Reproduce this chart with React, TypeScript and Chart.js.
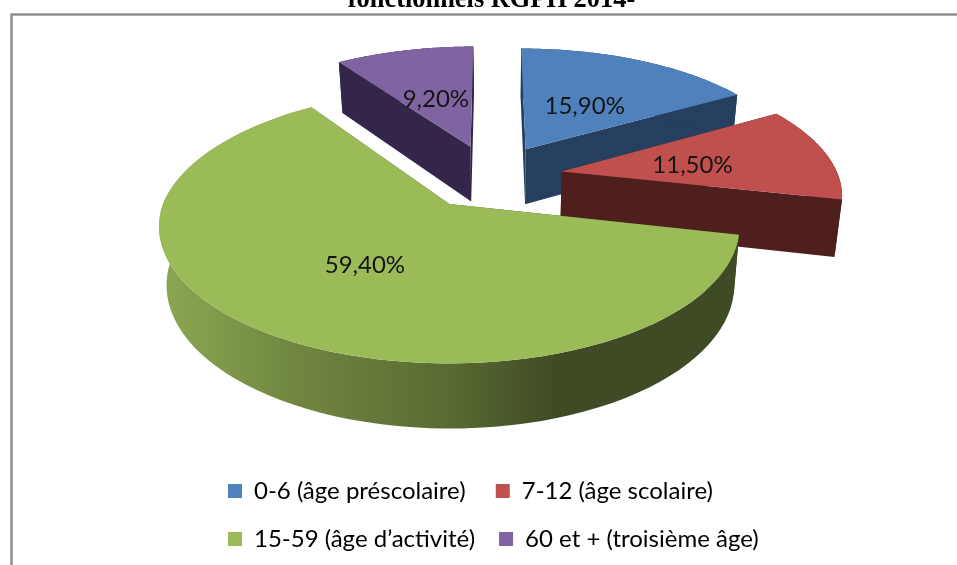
import React, { useEffect, useRef } from "react";
import { Chart, registerables } from "chart.js";

Chart.register(...registerables);

const categories = ["0-6 (âge préscolaire)", "7-12 (âge scolaire)", "15-59 (âge d’activité)", "60 et + (troisième âge)"];
const shares = [15.9, 11.5, 59.4, 9.2];
const valueLabels = ["15,90%", "11,50%", "59,40%", "9,20%"];
const faceColors = ["#4f81bd", "#c0504d", "#9bbb59", "#8064a2"];
const wallColors = ["#263f5e", "#4f1f1e", "#3f4b24", "#33264a"];
const paintOrder = [3, 0, 1, 2];
const titleText = "fonctionnels RGPH 2014-";

// Perspective of the pie (style constants)
const CX = 451, CY = 203, RX = 286, RY = 133, K = 0.163, SHEAR = 0.05;
const HUB_X = 0.14, HUB_U = 0.207, EXPLODE = 0.26, LABEL_R = 0.49;
const FONT = "Lato";
const FONT_SIZE = 24;

type P = [number, number];
const top = (X: number, u: number): P => {
  const w = 1 + K * u;
  const dy = -(RY * u) / w;
  return [CX + (RX * X) / w - SHEAR * Math.min(dy, 0), CY + dy];
};
const drop = (p: P): P => [500 + (p[0] - 500) * 0.978, p[1] * 1.047 + 48];

const pie3d = {
  id: "pie3d",
  beforeDraw(chart: any) {
    const { ctx } = chart;
    ctx.save();
    ctx.fillStyle = "#fff";
    ctx.fillRect(0, 0, chart.width, chart.height);
    ctx.strokeStyle = "#8f8f8f";
    ctx.lineWidth = 2.5;
    ctx.beginPath();
    ctx.moveTo(11.5, chart.height + 2);
    ctx.lineTo(11.5, 14.5);
    ctx.lineTo(chart.width + 2, 14.5);
    ctx.stroke();
    ctx.fillStyle = "#000";
    ctx.font = "bold 26.4px 'Liberation Serif'";
    ctx.textAlign = "center";
    ctx.textBaseline = "alphabetic";
    ctx.fillText(titleText, 491.5, 7);
    ctx.restore();
  },
  beforeDatasetDraw(chart: any, args: any) {
    const { ctx } = chart;
    const arcs = chart.getDatasetMeta(args.index).data;
    const info = arcs.map((arc: any) => {
      const mid = (arc.startAngle + arc.endAngle) / 2;
      const hub: [number, number] = [HUB_X + EXPLODE * Math.cos(mid), HUB_U - EXPLODE * Math.sin(mid)];
      const rim: P[] = [];
      const n = 80;
      for (let j = 0; j <= n; j++) {
        const a = arc.startAngle + ((arc.endAngle - arc.startAngle) * j) / n;
        rim.push(top(hub[0] + Math.cos(a), hub[1] - Math.sin(a)));
      }
      return { mid, hub, rim, apex: top(hub[0], hub[1]) };
    });
    const poly = (pts: P[], fill: any) => {
      ctx.beginPath();
      pts.forEach((p, i) => (i ? ctx.lineTo(p[0], p[1]) : ctx.moveTo(p[0], p[1])));
      ctx.closePath();
      ctx.fillStyle = fill;
      ctx.fill();
    };
    ctx.save();
    paintOrder.forEach((i) => {
      const { rim, apex } = info[i];
      let wall: any = wallColors[i];
      if (i === 2) {
        const g = ctx.createLinearGradient(165, 0, 740, 0);
        g.addColorStop(0, "#8ba652");
        g.addColorStop(0.23, "#708640");
        g.addColorStop(0.5, "#586a32");
        g.addColorStop(0.68, "#3f4b24");
        g.addColorStop(1, "#3f4b24");
        wall = g;
      }
      const first = rim[0];
      const last = rim[rim.length - 1];
      poly([apex, first, drop(first), drop(apex)], wallColors[i]);
      poly([apex, last, drop(last), drop(apex)], wallColors[i]);
      poly([...rim, ...rim.map(drop).reverse()], wall);
      poly([apex, ...rim], faceColors[i]);
    });
    ctx.fillStyle = "#141414";
    ctx.font = `${FONT_SIZE}px ${FONT}`;
    ctx.textAlign = "center";
    ctx.textBaseline = "middle";
    info.forEach((s: any, i: number) => {
      const p = top(s.hub[0] + LABEL_R * Math.cos(s.mid), s.hub[1] - LABEL_R * Math.sin(s.mid));
      ctx.fillText(valueLabels[i], p[0], p[1] + 3);
    });
    ctx.restore();
    return false;
  },
};

export default function App() {
  const ref = useRef<HTMLCanvasElement>(null);
  useEffect(() => {
    document.body.style.margin = "0";
    const chart = new Chart(ref.current!, {
      type: "pie",
      data: {
        labels: categories,
        datasets: [{ data: shares, backgroundColor: faceColors, borderWidth: 0 }],
      },
      options: {
        animation: false,
        responsive: false,
        layout: { padding: { left: 204, bottom: 4, right: 0, top: 30 } },
        plugins: {
          title: { display: false },
          tooltip: { enabled: false },
          legend: {
            display: true,
            position: "bottom",
            align: "start",
            labels: {
              boxWidth: 14,
              boxHeight: 14,
              padding: 24,
              color: "#141414",
              font: { family: FONT, size: FONT_SIZE },
              generateLabels: (c: any) =>
                c.data.labels.map((text: string, i: number) => ({
                  text: i === 0 ? text + "\u00a0" : text,
                  fillStyle: faceColors[i],
                  strokeStyle: faceColors[i],
                  lineWidth: 0,
                  index: i,
                })),
            },
          },
        },
      },
      plugins: [pie3d],
    } as any);
    return () => chart.destroy();
  }, []);
  return (
    <div style={{ position: "fixed", left: 0, top: 0, width: 957, height: 565, background: "#fff" }}>
      <canvas ref={ref} width={957} height={565} style={{ display: "block" }} />
    </div>
  );
}
